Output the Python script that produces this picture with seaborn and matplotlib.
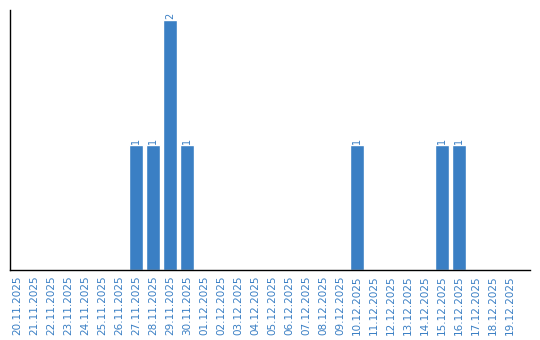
import matplotlib
matplotlib.use("Agg")
import matplotlib.pyplot as plt
import seaborn as sns
import pandas as pd

dates = ["20.11.2025", "21.11.2025", "22.11.2025", "23.11.2025", "24.11.2025",
         "25.11.2025", "26.11.2025", "27.11.2025", "28.11.2025", "29.11.2025",
         "30.11.2025", "01.12.2025", "02.12.2025", "03.12.2025", "04.12.2025",
         "05.12.2025", "06.12.2025", "07.12.2025", "08.12.2025", "09.12.2025",
         "10.12.2025", "11.12.2025", "12.12.2025", "13.12.2025", "14.12.2025",
         "15.12.2025", "16.12.2025", "17.12.2025", "18.12.2025", "19.12.2025"]
counts = [0, 0, 0, 0, 0, 0, 0, 1, 1, 2,
          1, 0, 0, 0, 0, 0, 0, 0, 0, 0,
          1, 0, 0, 0, 0, 1, 1, 0, 0, 0]

BLUE = "#3a7fc4"
sns.set_style("white")
plt.rcParams['font.family'] = ['DejaVu Sans']

df = pd.DataFrame({"date": dates, "count": counts})
fig = plt.figure(figsize=(5.4, 3.4), dpi=100)
ax = fig.add_axes([10/540, 70/340, 520/540, 260/340])
sns.barplot(data=df, x="date", y="count", color=BLUE, width=0.82,
            saturation=1, ax=ax, order=dates)

for cont in ax.containers:
    labels = [str(int(v)) if v > 0 else "" for v in cont.datavalues]
    ax.bar_label(cont, labels=labels, rotation=90, color=BLUE, fontsize=7, padding=1)

ax.set_xlim(-0.41, 30.18)
ax.set_ylim(0, 2.08)
ax.set_xlabel("")
ax.set_ylabel("")
ax.set_yticks([])
ax.tick_params(axis="x", length=0, pad=4, labelsize=7.5, labelcolor=BLUE, rotation=90)
for s in ["top", "right"]:
    ax.spines[s].set_visible(False)
for s in ["left", "bottom"]:
    ax.spines[s].set_color("black")
    ax.spines[s].set_linewidth(1)

fig.savefig("out.png", dpi=100)
